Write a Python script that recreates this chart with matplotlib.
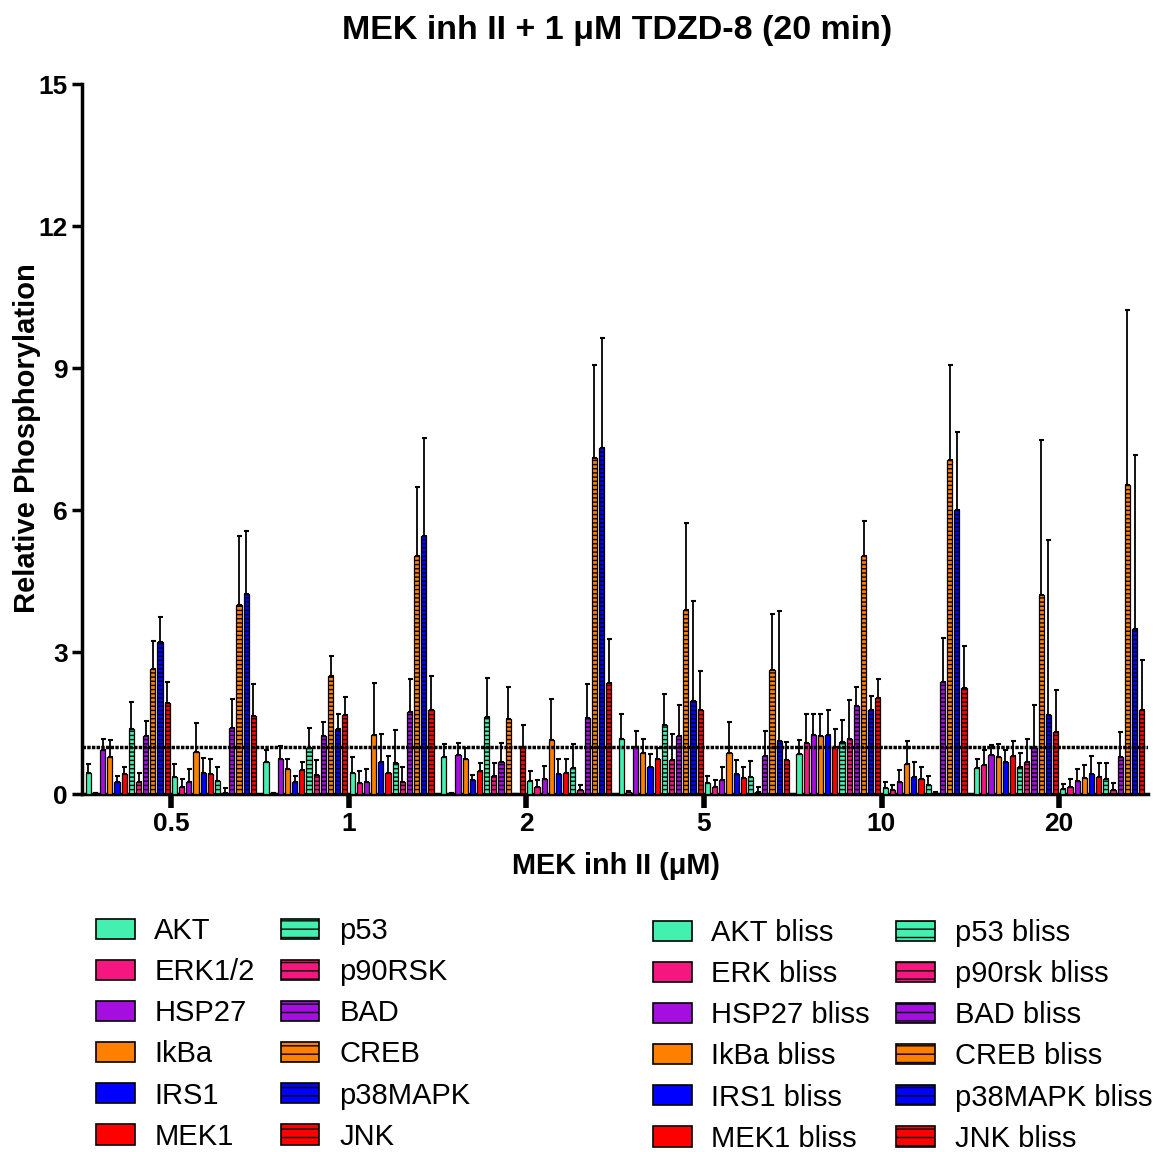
import numpy as np
import matplotlib
matplotlib.use("Agg")
import matplotlib.pyplot as plt
from matplotlib.patches import Patch

plt.rcParams["font.family"] = ["Liberation Sans", "DejaVu Sans"]
plt.rcParams["hatch.linewidth"] = 1.0

DOSES = ["0.5", "1", "2", "5", "10", "20"]

MEASURED = ["AKT", "ERK1/2", "HSP27", "IkBa", "IRS1", "MEK1",
            "p53", "p90RSK", "BAD", "CREB", "p38MAPK", "JNK"]
BLISS = ["AKT bliss", "ERK bliss", "HSP27 bliss", "IkBa bliss", "IRS1 bliss", "MEK1 bliss",
         "p53 bliss", "p90rsk bliss", "BAD bliss", "CREB bliss", "p38MAPK bliss", "JNK bliss"]

# mean / SD per dose, 24 entries each: 12 measured then 12 bliss predictions
MEAN_0_5 = [0.45, 0.02, 0.92, 0.78, 0.25, 0.42, 1.37, 0.26, 1.23, 2.64, 3.21, 1.92,
            0.35, 0.15, 0.26, 0.88, 0.44, 0.43, 0.27, 0.02, 1.40, 3.99, 4.22, 1.65]
SD_0_5 = [0.18, 0.01, 0.25, 0.36, 0.12, 0.16, 0.57, 0.19, 0.32, 0.59, 0.54, 0.45,
          0.28, 0.16, 0.26, 0.63, 0.33, 0.31, 0.30, 0.11, 0.60, 1.47, 1.34, 0.67]

MEAN_1 = [0.68, 0.02, 0.74, 0.53, 0.25, 0.50, 0.97, 0.41, 1.22, 2.49, 1.37, 1.66,
          0.44, 0.24, 0.25, 1.24, 0.67, 0.44, 0.65, 0.25, 1.74, 5.03, 5.46, 1.77]
SD_1 = [0.26, 0.01, 0.28, 0.22, 0.12, 0.17, 0.42, 0.31, 0.31, 0.43, 0.33, 0.38,
        0.35, 0.25, 0.28, 1.11, 0.59, 0.37, 0.71, 0.31, 0.69, 1.45, 2.06, 0.73]

MEAN_2 = [0.78, 0.02, 0.82, 0.73, 0.29, 0.49, 1.63, 0.39, 0.68, 1.58, 0.00, 1.00,
          0.27, 0.15, 0.32, 1.15, 0.42, 0.44, 0.55, 0.09, 1.60, 7.09, 7.31, 2.34]
SD_2 = [0.27, 0.01, 0.26, 0.25, 0.11, 0.17, 0.83, 0.27, 0.40, 0.69, 0.00, 0.45,
        0.22, 0.15, 0.28, 0.86, 0.33, 0.31, 0.51, 0.11, 0.72, 1.98, 2.32, 0.93]

MEAN_5 = [1.16, 0.05, 0.99, 0.87, 0.57, 0.75, 1.45, 0.71, 1.22, 3.89, 1.97, 1.78,
          0.23, 0.15, 0.30, 0.87, 0.42, 0.34, 0.35, 0.05, 0.80, 2.61, 1.13, 0.71]
SD_5 = [0.52, 0.02, 0.35, 0.30, 0.27, 0.22, 0.67, 0.56, 0.65, 1.83, 2.11, 0.82,
        0.16, 0.15, 0.26, 0.65, 0.30, 0.24, 0.35, 0.09, 0.54, 1.20, 2.74, 0.38]

MEAN_10 = [0.84, 1.08, 1.25, 1.22, 1.25, 1.00, 1.09, 1.16, 1.86, 5.03, 1.78, 2.02,
           0.13, 0.09, 0.25, 0.63, 0.36, 0.32, 0.20, 0.02, 2.36, 7.06, 6.00, 2.25]
SD_10 = [0.30, 0.62, 0.43, 0.46, 0.52, 0.38, 0.47, 0.82, 0.41, 0.74, 0.29, 0.42,
         0.13, 0.10, 0.25, 0.48, 0.32, 0.24, 0.19, 0.03, 0.94, 2.01, 1.65, 0.88]

MEAN_20 = [0.54, 0.61, 0.82, 0.78, 0.67, 0.81, 0.58, 0.68, 0.97, 4.21, 1.67, 1.30,
           0.11, 0.15, 0.27, 0.34, 0.42, 0.35, 0.32, 0.09, 0.78, 6.53, 3.48, 1.77]
SD_20 = [0.21, 0.33, 0.22, 0.28, 0.26, 0.30, 0.29, 0.48, 0.91, 3.27, 3.70, 0.89,
         0.11, 0.17, 0.26, 0.27, 0.39, 0.30, 0.34, 0.15, 0.54, 3.70, 3.68, 1.06]

COLORS = ["#43F0B0", "#F5177F", "#A40FE0", "#FF8000", "#0000FF", "#FF0000"]

means = np.array([MEAN_0_5, MEAN_1, MEAN_2, MEAN_5, MEAN_10, MEAN_20])
sds = np.array([SD_0_5, SD_1, SD_2, SD_5, SD_10, SD_20])
n_series = means.shape[1]

SLOT = 0.0404
BAR_W = 0.029


def series_style(j):
    color = COLORS[j % 6]
    hatched = (j % 12) >= 6
    return color, hatched


fig = plt.figure(figsize=(11.57, 11.52), dpi=100)
ax = fig.add_axes([82 / 1157, 1 - 794 / 1152, 1066 / 1157, 710 / 1152])

groups = np.arange(len(DOSES))
for j in range(n_series):
    color, hatched = series_style(j)
    x = groups + (j - (n_series - 1) / 2) * SLOT
    ax.bar(x, means[:, j], BAR_W, color=color, edgecolor="black", linewidth=0.9,
           hatch="----" if hatched else None, zorder=3)
    ax.errorbar(x, means[:, j], yerr=[np.zeros(len(DOSES)), sds[:, j]], fmt="none",
                ecolor="black", elinewidth=1.3, capsize=1.8, capthick=1.5, zorder=2)

# additivity reference at 1.0
ax.axhline(1.0, color="black", lw=2.5, ls=(0, (1, 0.35)), zorder=5)

ax.set_xlim(-0.5, len(DOSES) - 0.5)
ax.set_ylim(0, 15)
ax.set_yticks(np.arange(0, 16, 3))
ax.set_xticks(groups)
ax.set_xticklabels(DOSES)
for spine in ("top", "right"):
    ax.spines[spine].set_visible(False)
for spine in ("left", "bottom"):
    ax.spines[spine].set_linewidth(2.5)
ax.tick_params(axis="y", length=7, width=2.5, labelsize=19, pad=3)
ax.tick_params(axis="x", length=10, width=4, labelsize=19, pad=3)
for lbl in ax.get_xticklabels() + ax.get_yticklabels():
    lbl.set_fontweight("bold")

fig.text(0.533, 1 - 30 / 1152, "MEK inh II + 1 \u03bcM TDZD-8 (20 min)", ha="center", va="center",
         fontsize=24.5, fontweight="bold")
fig.text(0.532, 1 - 866 / 1152, "MEK inh II (\u03bcM)", ha="center", va="center",
         fontsize=20.8, fontweight="bold")
fig.text(27 / 1157, 1 - 438 / 1152, "Relative Phosphorylation", ha="center", va="center",
         rotation=90, fontsize=21, fontweight="bold")


def legend_handles(start):
    handles = []
    for j in range(start, start + 12):
        color, hatched = series_style(j)
        handles.append(Patch(facecolor=color, edgecolor="black", linewidth=1.2,
                             hatch="--" if hatched else None))
    return handles


leg_kw = dict(ncol=2, loc="upper left", frameon=False, fontsize=21, handlelength=1.32,
              handleheight=0.69, handletextpad=0.68, columnspacing=0.9, labelspacing=0.45,
              borderpad=0, borderaxespad=0)
fig.legend(legend_handles(0), MEASURED, bbox_to_anchor=(96 / 1157, 1 - 917 / 1152), **leg_kw)
fig.legend(legend_handles(12), BLISS, bbox_to_anchor=(653 / 1157, 1 - 919 / 1152), **leg_kw)

fig.savefig("out.png", dpi=100)
